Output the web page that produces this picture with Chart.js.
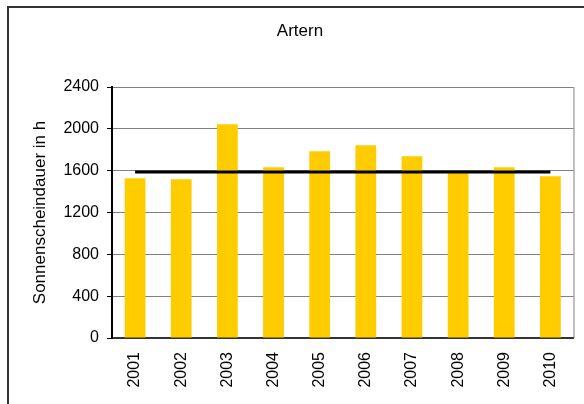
<!DOCTYPE html>
<html>
<head>
<meta charset="utf-8">
<script src="https://cdn.jsdelivr.net/npm/chart.js@4"></script>
<style>
    html, body { margin: 0; padding: 0; background: #fff; }
    #wrap { width: 584px; height: 404px; position: relative; }
</style>
</head>
<body>
<div id="wrap"><canvas id="sunChart" width="584" height="404"></canvas></div>
<script>
const chartTitle = 'Artern';
const years = ['2001', '2002', '2003', '2004', '2005', '2006', '2007', '2008', '2009', '2010'];
const sunHours = [1527, 1517, 2044, 1632, 1785, 1842, 1737, 1590, 1632, 1546];
const longTermMean = [1587, 1587, 1587, 1587, 1587, 1587, 1587, 1587, 1587, 1587];
const yTicks = [0, 400, 800, 1200, 1600, 2000, 2400];

const fontFamily = '"Liberation Sans", Arial, sans-serif';

// outer frame, chart title (centred on the frame) and right plot border
const framePlugin = {
    id: 'frame',
    afterDraw(chart) {
        const ctx = chart.ctx;
        const area = chart.chartArea;
        ctx.save();
        ctx.strokeStyle = '#808080';
        ctx.lineWidth = 1;
        ctx.beginPath();
        ctx.moveTo(area.right + 0.5, area.top);
        ctx.lineTo(area.right + 0.5, area.bottom);
        ctx.stroke();
        ctx.strokeStyle = '#333';
        ctx.lineWidth = 2;
        ctx.strokeRect(8, 7, 620, 440);
        ctx.fillStyle = '#000';
        ctx.font = '17px ' + fontFamily;
        ctx.textAlign = 'center';
        ctx.textBaseline = 'middle';
        ctx.fillText(chartTitle, 300, 31);
        ctx.restore();
    }
};

const ctx = document.getElementById('sunChart').getContext('2d');
new Chart(ctx, {
    type: 'bar',
    data: {
        labels: years,
        datasets: [
            {
                type: 'line',
                label: 'Mittel',
                data: longTermMean,
                borderColor: '#000',
                borderWidth: 3,
                pointRadius: 0,
                fill: false,
                order: 0
            },
            {
                label: 'Sonnenscheindauer',
                data: sunHours,
                backgroundColor: '#FFCC00',
                borderWidth: 0,
                barPercentage: 0.45,
                categoryPercentage: 1.0,
                order: 1
            }
        ]
    },
    options: {
        responsive: false,
        animation: false,
        layout: {
            padding: { left: 9, right: 8, top: 87, bottom: 0 }
        },
        plugins: {
            legend: { display: false },
            tooltip: { enabled: false },
            title: { display: false }
        },
        scales: {
            x: {
                grid: { display: false, drawTicks: false },
                border: { display: true, color: '#333', width: 2 },
                ticks: {
                    minRotation: 90,
                    maxRotation: 90,
                    padding: 14,
                    color: '#000',
                    font: { family: fontFamily, size: 16 }
                },
                afterFit(scale) {
                    scale.height = 66;
                }
            },
            y: {
                min: 0,
                max: 2400,
                afterBuildTicks(scale) {
                    scale.ticks = yTicks.map(v => ({ value: v }));
                },
                grid: {
                    color: '#808080',
                    tickColor: '#000',
                    tickLength: 5,
                    lineWidth: 1
                },
                border: { display: true, color: '#000', width: 2 },
                ticks: {
                    padding: 8,
                    color: '#000',
                    font: { family: fontFamily, size: 16 },
                    callback: value => String(value)
                },
                title: {
                    display: true,
                    text: 'Sonnenscheindauer in h',
                    color: '#000',
                    font: { family: fontFamily, size: 17 },
                    padding: { top: 21, bottom: 0 }
                },
                afterFit(scale) {
                    scale.width = 103;
                }
            }
        }
    },
    plugins: [framePlugin]
});
</script>
</body>
</html>
